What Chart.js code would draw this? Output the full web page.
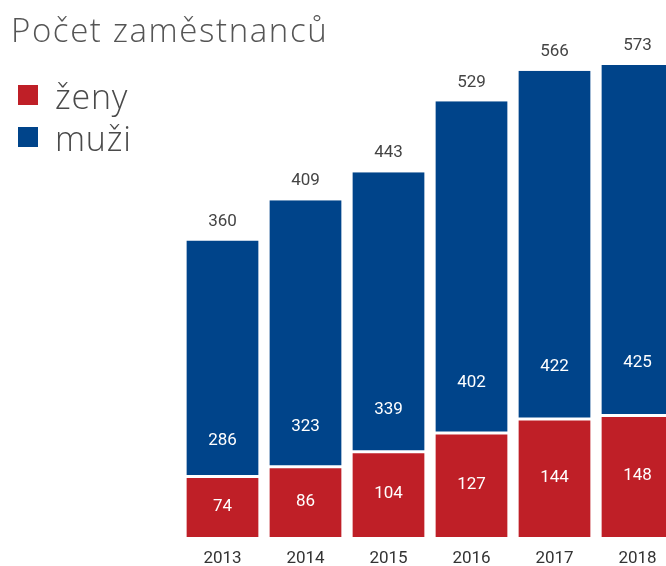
<!DOCTYPE html>
<html>
<head>
<meta charset="utf-8">
<script src="https://cdn.jsdelivr.net/npm/chart.js@4.4.1/dist/chart.umd.min.js"></script>
<style>
  html, body { margin: 0; padding: 0; background: #fff; overflow: hidden; width: 666px; height: 566px; }
  #wrap { position: relative; width: 680px; height: 566px; overflow: hidden; }
  canvas { position: absolute; left: 0; top: 0; }
  .title { position: absolute; left: 11px; top: 7px; font-family: "Open Sans", Roboto, sans-serif; font-weight: 300; font-size: 33px; letter-spacing: 1.6px; color: #555; white-space: nowrap; }
  .leg { position: absolute; left: 18px; font-family: "Open Sans", Roboto, sans-serif; font-weight: 300; font-size: 34px; letter-spacing: 0.8px; color: #4a4a4a; white-space: nowrap; }
  .leg span.sw { display: inline-block; width: 20px; height: 20px; margin-right: 17px; vertical-align: 4px; }
</style>
</head>
<body>
<div id="wrap">
  <canvas id="c" width="680" height="580"></canvas>
  <div class="title">Počet zaměstnanců</div>
  <div class="leg" style="top:73px"><span class="sw" style="background:#bf1f27"></span>ženy</div>
  <div class="leg" style="top:115px"><span class="sw" style="background:#00448a"></span>muži</div>
</div>
<script>
const years = ['2013', '2014', '2015', '2016', '2017', '2018'];
const zeny = [74, 86, 104, 127, 144, 148];
const muzi = [286, 323, 339, 402, 422, 425];
const celkem = [360, 409, 443, 529, 566, 573];

const labelFont = '400 17px Roboto, "Noto Sans", sans-serif';

const labelsPlugin = {
  id: 'labelsPlugin',
  afterDatasetsDraw(chart) {
    const ctx = chart.ctx;
    const y = chart.scales.y;
    ctx.save();
    ctx.font = labelFont;
    ctx.textAlign = 'center';
    ctx.textBaseline = 'middle';
    const m0 = chart.getDatasetMeta(0);
    const m1 = chart.getDatasetMeta(1);
    years.forEach((yr, i) => {
      const x = m0.data[i].x;
      ctx.fillStyle = '#ffffff';
      ctx.fillText(String(zeny[i]), x, y.getPixelForValue(zeny[i] / 2));
      ctx.fillText(String(muzi[i]), x, y.getPixelForValue(zeny[i] + muzi[i] * 0.15));
      ctx.fillStyle = '#444444';
      ctx.fillText(String(celkem[i]), x, m1.data[i].y - 19);
    });
    ctx.restore();
  }
};

new Chart(document.getElementById('c'), {
  type: 'bar',
  data: {
    labels: years,
    datasets: [
      { label: 'ženy', data: zeny, backgroundColor: '#bf1f27', borderColor: '#ffffff',
        borderWidth: { top: 2, bottom: 0, left: 0, right: 0 }, borderSkipped: false,
        barPercentage: 0.87, categoryPercentage: 1.0 },
      { label: 'muži', data: muzi, backgroundColor: '#00448a', borderColor: '#ffffff',
        borderWidth: { top: 0, bottom: 1, left: 0, right: 0 }, borderSkipped: false,
        barPercentage: 0.87, categoryPercentage: 1.0 }
    ]
  },
  options: {
    responsive: false,
    animation: false,
    devicePixelRatio: 1,
    layout: { padding: { left: 181, right: 1, top: 0, bottom: 0 } },
    plugins: { legend: { display: false }, tooltip: { enabled: false }, title: { display: false } },
    scales: {
      x: {
        stacked: true,
        grid: { display: false, drawTicks: false, tickLength: 0 },
        border: { display: false },
        ticks: { color: '#333', padding: 13, autoSkip: false, maxRotation: 0, font: { family: 'Roboto, "Noto Sans", sans-serif', size: 17, lineHeight: 1 } }
      },
      y: { stacked: true, display: false, min: 0, max: 652 }
    }
  },
  plugins: [labelsPlugin]
});
</script>
</body>
</html>
